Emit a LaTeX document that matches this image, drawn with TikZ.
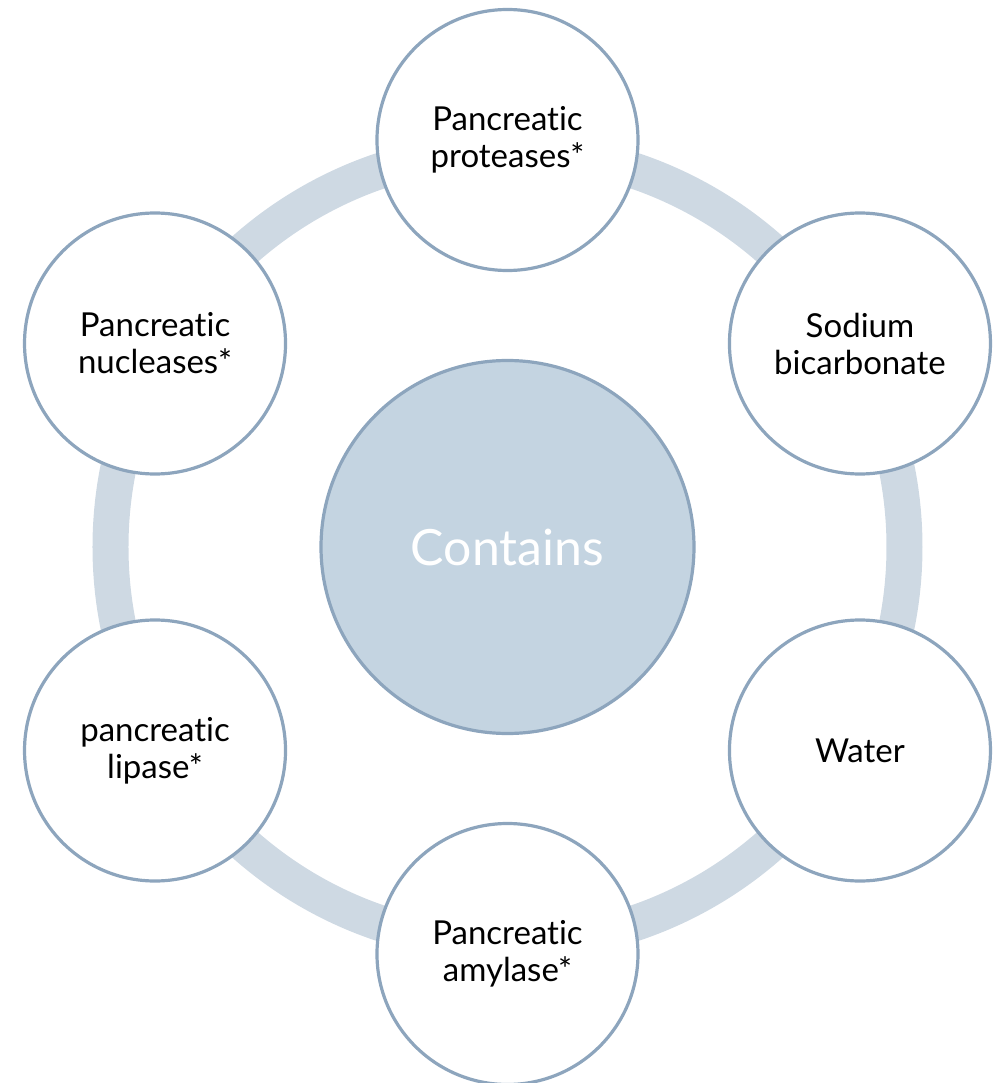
\documentclass[tikz,border=0pt]{standalone}
\usepackage{fontspec}
\setmainfont{Lato}[Ligatures=NoCommon]
\usepackage{tikz}
\definecolor{ringblue}{RGB}{206,217,227}
\definecolor{hubblue}{RGB}{196,212,225}
\definecolor{edgeblue}{RGB}{141,165,189}

\begin{document}
\begin{tikzpicture}[x=1pt, y=1pt, every node/.style={circle, draw=edgeblue, line width=1.6pt, align=center, inner sep=0pt, font=\fontsize{16.5}{18.5}\selectfont}]
            \useasboundingbox (-253.75,-268) rectangle (245.75,273.5);
            \draw[ringblue, line width=18pt] (0,0) circle[radius=198.5];
            \node[fill=hubblue, minimum size=186.5pt, text=white, font=\fontsize{25}{30}\selectfont] (hub) at (0,0) {Contains};
            \foreach \a/\n/\t in {90/1/{Pancreatic\\proteases*}, 30/2/{Sodium\\bicarbonate}, -30/3/{Water}, -90/4/{Pancreatic\\amylase*}, -150/5/{pancreatic\\lipase*}, 150/6/{Pancreatic\\nucleases*}} {
                \node[fill=white, minimum size=130.5pt] (s\n) at (\a:203.5) {\t};
            }
        \end{tikzpicture}
\end{document}
